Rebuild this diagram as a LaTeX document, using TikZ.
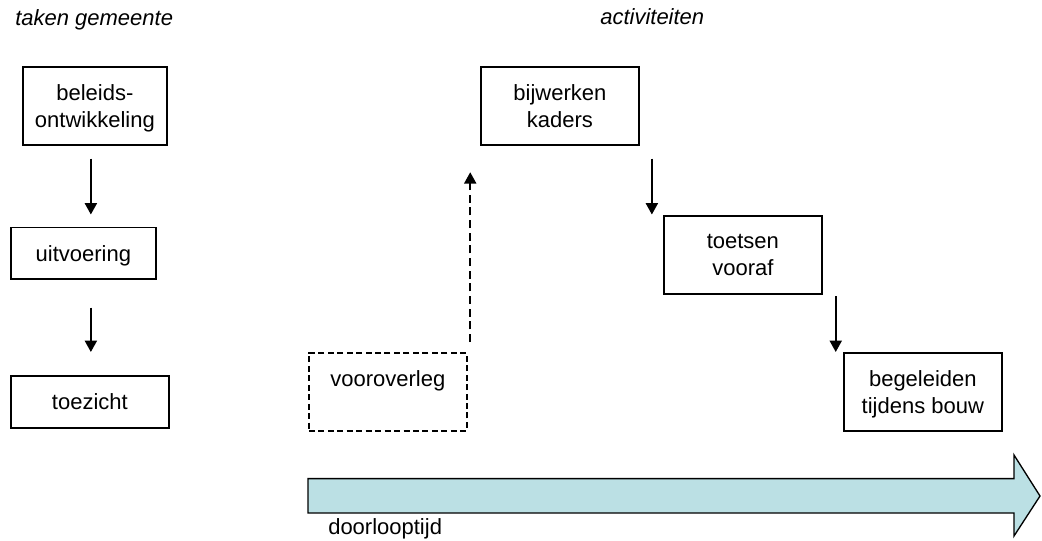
\documentclass[tikz,border=0pt]{standalone}
\usepackage{fontspec}
\setmainfont{Liberation Sans}
\usetikzlibrary{arrows.meta,calc}
\definecolor{arrowfill}{RGB}{187,224,228}
\begin{document}
\begin{tikzpicture}[x=0.75pt,y=-0.75pt,
  txt/.style={font=\fontsize{16.5}{20.25}\selectfont},
  boxnode/.style={txt,draw,line width=1.3pt,inner sep=0pt,align=center,anchor=north west,text depth=0pt},
  dashbox/.style={boxnode,dash pattern=on 4.5pt off 2.6pt},
  arr/.style={line width=1.4pt,-{Triangle[length=8.5pt,width=9pt]}},
  dasharr/.style={arr,dash pattern=on 6pt off 3.5pt}]
\useasboundingbox (0,0) rectangle (1042,540);
% titles
\node[txt,font=\fontsize{16.5}{20.25}\selectfont\itshape,anchor=base west,inner sep=0pt] (t1) at (15,25) {taken gemeente};
\node[txt,font=\fontsize{16.5}{20.25}\selectfont\itshape,anchor=base west,inner sep=0pt] (t2) at (600,24.5) {activiteiten};
% left column
\node[boxnode,minimum width=108pt,minimum height=58.5pt] (beleids) at (22,66) {beleids-\\ontwikkeling};
\node[boxnode,minimum width=108.75pt,minimum height=38.6pt] (uitv) at (10,226.5) {uitvoering};
\node[boxnode,minimum width=118.5pt,minimum height=39pt] (toez) at (10,375) {toezicht};
% activities
\node[dashbox,minimum width=118.5pt,minimum height=58.5pt] (voor) at (308,352) {vooroverleg\\\mbox{}};
\node[boxnode,minimum width=118.5pt,minimum height=58.5pt] (bijw) at (480,66) {bijwerken\\kaders};
\node[boxnode,minimum width=118.5pt,minimum height=58.5pt] (toets) at (663,215) {toetsen\\vooraf};
\node[boxnode,minimum width=118.5pt,minimum height=58.5pt] (begel) at (843,352) {begeleiden\\tijdens bouw};
% connectors
\draw[arr] ($(beleids.south)+(-4,13)$) coordinate (s1) -- (s1 |- {$(uitv.north)+(0,-12)$});
\draw[arr] ($(uitv.south)+(7.5,28)$) coordinate (s2) -- (s2 |- {$(toez.north)+(0,-23)$});
\draw[dasharr] ($(voor.north east)+(2.5,-10)$) coordinate (s3) -- (s3 |- {$(bijw.south)+(0,26.5)$});
\draw[arr] ($(bijw.south)+(92,13)$) coordinate (s4) -- (s4 |- {$(toets.north)+(0,-0.5)$});
\draw[arr] ($(toets.south east)+(13,1.5)$) coordinate (s5) -- (s5 |- begel.north);
% big time arrow
\draw[line width=1pt,fill=arrowfill,line join=miter]
  (308,478.6) -- (1014,478.6) -- (1014,455) -- (1040,496) -- (1014,536) -- (1014,513) -- (308,513) -- cycle;
\node[txt,anchor=base west,inner sep=0pt] (doorl) at (328,534) {doorlooptijd};
\end{tikzpicture}
\end{document}
